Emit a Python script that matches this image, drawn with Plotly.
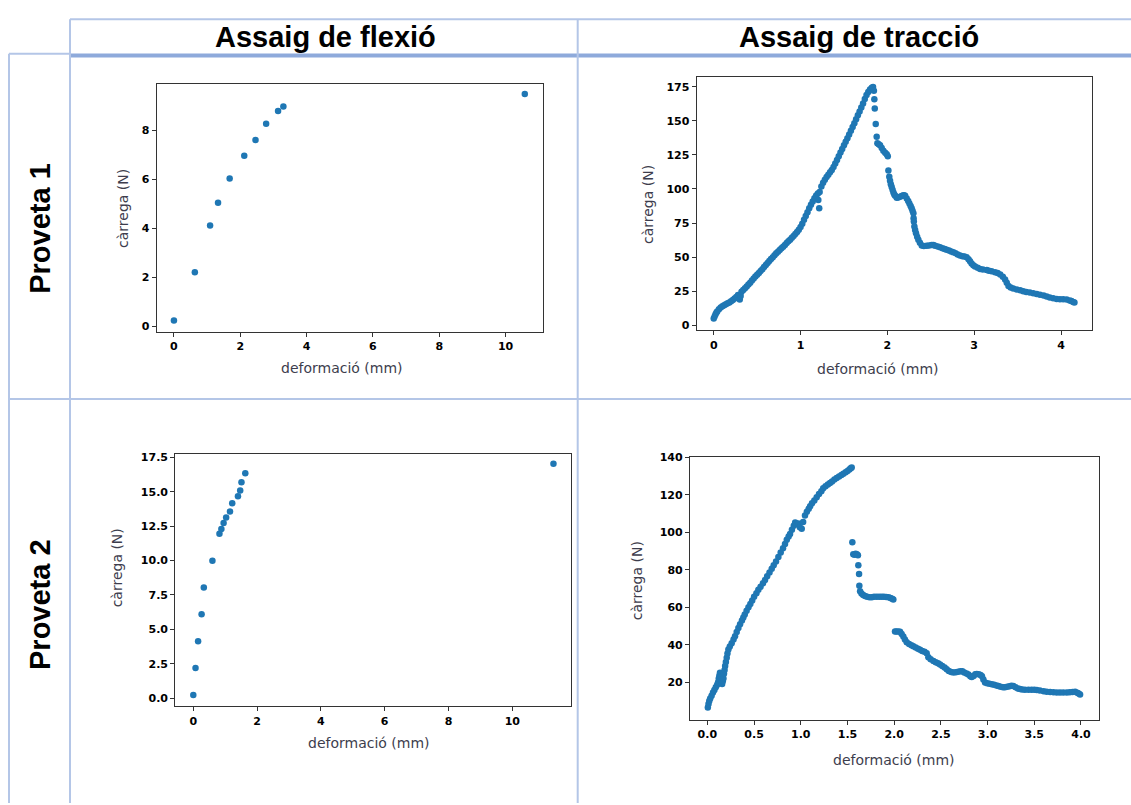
import plotly.graph_objects as go

W, H = 1131, 805

# ---------------- data ----------------
flex1_x = [0.0, 0.63, 1.09, 1.33, 1.68, 2.12, 2.46, 2.78, 3.14, 3.30, 10.58]
flex1_y = [0.23, 2.2, 4.12, 5.05, 6.04, 6.97, 7.62, 8.28, 8.80, 8.99, 9.50]

flex2_x = [0.0, 0.07, 0.15, 0.26, 0.33, 0.60, 0.82, 0.88, 0.95, 1.03, 1.15, 1.22, 1.40, 1.47, 1.51, 1.63, 11.29]
flex2_y = [0.22, 2.18, 4.13, 6.10, 8.04, 9.99, 11.95, 12.29, 12.72, 13.13, 13.56, 14.16, 14.67, 15.10, 15.70, 16.35, 17.04]

trac1_x = [0.00, 0.01, 0.02, 0.03, 0.04, 0.06, 0.08, 0.10, 0.12, 0.14, 0.16, 0.18, 0.20, 0.22, 0.24, 0.26, 0.28,
           0.30, 0.31, 0.32, 0.34, 0.36, 0.38, 0.40, 0.42, 0.44, 0.46, 0.48, 0.50, 0.52, 0.54, 0.56, 0.58, 0.60,
           0.62, 0.64, 0.66, 0.68, 0.70, 0.72, 0.74, 0.76, 0.78, 0.80, 0.82, 0.84, 0.86, 0.88, 0.90, 0.92, 0.94,
           0.96, 0.98, 1.00, 1.02, 1.04, 1.06, 1.08, 1.10, 1.12, 1.14, 1.16, 1.18, 1.20, 1.205, 1.215, 1.22, 1.24,
           1.26, 1.28, 1.30, 1.32, 1.34, 1.36, 1.38, 1.40, 1.42, 1.44, 1.46, 1.48, 1.50, 1.52, 1.54, 1.56, 1.58,
           1.60, 1.62, 1.64, 1.66, 1.68, 1.70, 1.72, 1.74, 1.76, 1.78, 1.80, 1.82, 1.835,
           1.845, 1.850, 1.855, 1.866, 1.877, 1.885, 1.90, 1.916, 1.935, 1.954, 1.975, 1.993, 2.005,
           2.012, 2.022, 2.031, 2.04, 2.05, 2.06, 2.07, 2.08, 2.09, 2.108, 2.125, 2.146, 2.165, 2.18, 2.192,
           2.205, 2.223, 2.24, 2.254, 2.268, 2.28, 2.29, 2.30, 2.302, 2.305, 2.311, 2.32, 2.33, 2.343, 2.357,
           2.375, 2.396, 2.42, 2.453, 2.48, 2.51, 2.53, 2.55, 2.58, 2.607, 2.635, 2.66, 2.683, 2.71, 2.735,
           2.76, 2.785, 2.81, 2.837, 2.865, 2.89, 2.914, 2.935, 2.952, 2.97, 2.99, 3.01, 3.04, 3.068, 3.10,
           3.145, 3.17, 3.20, 3.24, 3.27, 3.30, 3.33, 3.356, 3.375, 3.395, 3.42, 3.45, 3.49, 3.53, 3.565,
           3.60, 3.64, 3.68, 3.72, 3.758, 3.80, 3.835, 3.87, 3.91, 3.95, 3.988, 4.025, 4.065, 4.10, 4.12,
           4.14, 4.155]
trac1_y = [5.0, 6.5, 8.0, 9.2, 10.2, 11.8, 13.0, 14.0, 14.8, 15.5, 16.2, 16.8, 17.6, 18.6, 19.6, 20.8, 22.3,
           19.0, 21.5, 24.6, 26.0, 27.2, 28.5, 30.0, 31.3, 32.8, 34.3, 35.8, 37.1, 38.4, 39.8, 41.2, 42.7, 44.2,
           45.7, 47.2, 48.6, 50.0, 51.4, 52.8, 54.0, 55.2, 56.5, 57.7, 59.0, 60.3, 61.6, 62.8, 64.2, 65.6, 67.0,
           68.5, 70.2, 72.2, 74.6, 77.4, 80.2, 83.0, 85.8, 88.4, 90.8, 93.2, 95.3, 96.7, 91.9, 85.8, 97.8, 101.8,
           104.5, 106.8, 108.8, 110.5, 112.2, 114.0, 116.2, 118.7, 121.2, 124.0, 126.8, 129.4, 132.0, 134.6, 137.3, 140.0, 142.7,
           145.4, 148.3, 151.2, 154.0, 156.8, 159.7, 162.8, 166.0, 169.0, 171.2, 173.0, 174.3, 174.8,
           172.0, 165.8, 159.0, 147.6, 138.4, 133.5, 132.8, 132.0, 130.0, 128.0, 126.5, 125.5, 124.0,
           113.5, 109.0, 106.0, 103.5, 101.5, 99.5, 97.5, 96.0, 95.0, 93.5, 93.8, 94.3, 94.8, 95.3, 95.5,
           95.0, 93.1, 91.2, 89.4, 87.5, 85.8, 84.0, 82.2, 78.5, 76.1, 72.5, 70.0, 67.6, 65.0, 62.8,
           60.5, 58.6, 58.2, 58.4, 58.6, 59.0, 59.0, 58.4, 57.8, 57.2, 56.6, 56.0, 55.5, 54.9, 54.2,
           53.6, 52.9, 52.0, 51.2, 50.7, 50.4, 50.0, 48.5, 47.0, 45.4, 44.0, 43.2, 42.2, 41.4, 40.9,
           40.5, 40.0, 39.6, 39.0, 38.3, 37.2, 35.6, 33.7, 31.2, 28.8, 27.8, 27.0, 26.3, 25.7, 25.0,
           24.5, 24.0, 23.5, 23.0, 22.5, 21.8, 21.1, 20.4, 19.8, 19.4, 19.2, 19.1, 18.9, 18.2, 17.8,
           17.2, 16.8]

trac2_x = [0.005, 0.012, 0.02, 0.03, 0.045, 0.06, 0.075, 0.09, 0.105, 0.115, 0.122, 0.128, 0.135, 0.142, 0.15,
           0.158, 0.165, 0.172, 0.178, 0.184, 0.19, 0.198, 0.207, 0.215, 0.225, 0.24, 0.26, 0.28, 0.296, 0.314,
           0.332, 0.35, 0.37, 0.385, 0.40, 0.42, 0.44, 0.46, 0.48, 0.50, 0.525, 0.546, 0.57, 0.595, 0.617, 0.64,
           0.665, 0.689, 0.71, 0.735, 0.76, 0.785, 0.81, 0.831, 0.85, 0.87, 0.885, 0.905, 0.925, 0.94, 0.96,
           0.975, 0.99, 1.01, 1.025, 1.045, 1.065, 1.085, 1.10, 1.12, 1.145, 1.17, 1.195, 1.22, 1.24, 1.265,
           1.29, 1.313, 1.335, 1.36, 1.384, 1.41, 1.435, 1.456, 1.48, 1.50, 1.52, 1.535, 1.545,
           1.552, 1.562, 1.575, 1.588, 1.60, 1.612, 1.616, 1.624, 1.627, 1.635, 1.65, 1.668, 1.688, 1.71,
           1.735, 1.76, 1.785, 1.813, 1.84, 1.866, 1.89, 1.915, 1.94, 1.96, 1.978, 1.991,
           2.009, 2.025, 2.045, 2.063, 2.08, 2.098, 2.115, 2.134, 2.16, 2.185, 2.205, 2.23, 2.255, 2.277,
           2.30, 2.325, 2.348, 2.366, 2.39, 2.42, 2.445, 2.47, 2.491, 2.515, 2.54, 2.562, 2.585, 2.61,
           2.634, 2.66, 2.685, 2.71, 2.73, 2.75, 2.775, 2.795, 2.815, 2.83, 2.85, 2.868, 2.884, 2.905,
           2.925, 2.94, 2.955, 2.973, 2.995, 3.02, 3.045, 3.07, 3.095, 3.116, 3.14, 3.165, 3.186, 3.21,
           3.235, 3.255, 3.276, 3.30, 3.325, 3.347, 3.37, 3.40, 3.437, 3.47, 3.50, 3.526, 3.56, 3.60,
           3.633, 3.67, 3.705, 3.74, 3.775, 3.81, 3.848, 3.88, 3.91, 3.937, 3.96, 3.975, 3.99]
trac2_y = [6.5, 8.3, 10.0, 11.3, 12.8, 14.5, 15.8, 17.3, 18.6, 20.0, 22.0, 23.5, 25.0, 23.0, 20.5,
           19.0, 20.5, 22.0, 24.5, 26.5, 28.6, 30.8, 33.0, 35.3, 37.4, 39.0, 40.8, 42.8, 44.5, 46.8,
           48.9, 51.0, 53.0, 54.6, 56.2, 58.2, 60.0, 61.8, 63.6, 65.6, 67.5, 69.3, 71.0, 72.8, 74.6, 76.6,
           78.6, 80.6, 82.4, 84.5, 86.8, 89.2, 91.5, 93.8, 96.0, 97.8, 99.2, 101.4, 103.6, 105.3, 104.5,
           104.8, 102.8, 102.0, 105.5, 109.0, 111.0, 112.6, 114.0, 115.5, 117.0, 118.8, 120.5, 122.0, 123.5, 124.6,
           125.6, 126.4, 127.2, 128.2, 129.1, 129.9, 130.6, 131.3, 132.1, 132.8, 133.6, 134.2, 134.6,
           94.7, 88.3, 88.0, 88.6, 88.3, 87.8, 82.4, 77.8, 71.5, 68.5, 67.4, 66.6, 66.0, 65.6,
           65.4, 65.3, 65.6, 65.6, 65.6, 65.6, 65.6, 65.5, 65.3, 65.0, 64.6, 64.2,
           47.1, 47.1, 47.1, 46.9, 45.8, 44.4, 42.8, 41.3, 40.4, 39.7, 39.2, 38.5, 37.9, 37.3,
           36.7, 36.2, 35.5, 33.3, 32.3, 31.3, 30.6, 30.1, 29.5, 28.6, 27.8, 26.9, 26.0, 25.4,
           25.2, 25.3, 25.6, 25.9, 25.8, 25.2, 24.6, 24.1, 23.2, 22.8, 23.3, 24.2, 24.4, 24.2,
           23.8, 23.2, 21.5, 19.9, 19.5, 19.2, 18.9, 18.6, 18.3, 18.0, 17.6, 17.3, 17.3, 17.6,
           17.9, 18.1, 18.0, 17.3, 16.6, 16.3, 16.1, 16.0, 15.9, 15.9, 15.9, 15.8, 15.5, 15.1,
           14.9, 14.7, 14.6, 14.5, 14.5, 14.5, 14.5, 14.6, 14.8, 14.9, 14.4, 13.9, 13.4]

col_titles = ["Assaig de flexió", "Assaig de tracció"]
row_titles = ["Proveta 1", "Proveta 2"]
x_label = "deformació (mm)"
y_label = "càrrega (N)"

x_ticks_flex = [0, 2, 4, 6, 8, 10]
y_ticks_flex1 = [0, 2, 4, 6, 8]
y_ticks_flex2 = [0, 2.5, 5, 7.5, 10, 12.5, 15, 17.5]
x_ticks_trac1 = [0, 1, 2, 3, 4]
y_ticks_trac1 = [0, 25, 50, 75, 100, 125, 150, 175]
x_ticks_trac2 = [0, 0.5, 1, 1.5, 2, 2.5, 3, 3.5, 4]
y_ticks_trac2 = [20, 40, 60, 80, 100, 120, 140]

# ---------------- helpers ----------------
def px(x):
    return x / W

def py(y):
    return 1 - y / H

BLUE = "#1f77b4"
fig = go.Figure()

panels = [
    (flex1_x, flex1_y, "", (156.7, 542.7, 78.5, 329.0), [-0.52, 11.12], [-0.23, 9.92], x_ticks_flex, y_ticks_flex1, "", "", 6.5),
    (trac1_x, trac1_y, "2", (696.7, 1092.0, 71.5, 327.5), [-0.196, 4.357], [-3.6, 182.3], x_ticks_trac1, y_ticks_trac1, "", "", 6.5),
    (flex2_x, flex2_y, "3", (175.3, 571.0, 452.3, 707.3), [-0.564, 11.84], [-0.6, 17.76], x_ticks_flex, y_ticks_flex2, ".1f", "", 6.5),
    (trac2_x, trac2_y, "4", (690.0, 1099.3, 456.0, 721.0), [-0.186, 4.196], [-0.1, 140.0], x_ticks_trac2, y_ticks_trac2, "", ".1f", 6.5),
]

tickfont = dict(family="DejaVu Sans", size=11, color="black", weight="bold")

for xs, ys, aid, (l, r, t, b), xr, yr, xt, yt, yfmt, xfmt, msize in panels:
    fig.add_trace(go.Scatter(
        x=xs, y=ys, mode="markers",
        marker=dict(color=BLUE, size=msize, line=dict(width=0)),
        xaxis="x" + aid, yaxis="y" + aid, showlegend=False,
        hoverinfo="x+y",
    ))
    common = dict(showline=True, mirror=True, linecolor="#333333", linewidth=1.2,
                  ticks="outside", ticklen=4, tickwidth=1, tickcolor="#333333",
                  showgrid=False, zeroline=False, tickfont=tickfont)
    fig.layout["xaxis" + aid] = dict(
        domain=[px(l), px(r)], range=xr, tickvals=xt, tickformat=xfmt,
        anchor="y" + aid, **common)
    fig.layout["yaxis" + aid] = dict(
        domain=[py(b), py(t)], range=yr, tickvals=yt, tickformat=yfmt,
        anchor="x" + aid, **common)

# axis titles (positions as in picture)
label_font = dict(family="DejaVu Sans", size=14, color="#3d3d4d")
xlab_pos = [(342, 366), (878, 367), (369, 744), (894, 762)]
ylab_pos = [(123, 205), (648, 201), (117, 568), (637, 581)]
for (x, y) in xlab_pos:
    fig.add_annotation(x=px(x), y=py(y), xref="paper", yref="paper", text=x_label,
                       showarrow=False, font=label_font, xanchor="center", yanchor="middle")
for (x, y) in ylab_pos:
    fig.add_annotation(x=px(x), y=py(y), xref="paper", yref="paper", text=y_label,
                       showarrow=False, font=label_font, textangle=-90,
                       xanchor="center", yanchor="middle")

# table headers
head_font = dict(family="Liberation Sans", size=29, color="black", weight="bold")
for text, x in zip(col_titles, [325, 859]):
    fig.add_annotation(x=px(x), y=py(31), xref="paper", yref="paper", text=text,
                       showarrow=False, font=head_font, xanchor="center", yanchor="middle")
for text, y in zip(row_titles, [225, 605]):
    fig.add_annotation(x=px(40), y=py(y), xref="paper", yref="paper", text=text,
                       showarrow=False, font=head_font, textangle=-90,
                       xanchor="center", yanchor="middle")

# table grid lines
LINE = "#b4c6e7"
THICK = "#8eaadb"
def hline(y, x0, x1, color=LINE, w=2):
    fig.add_shape(type="line", xref="paper", yref="paper", x0=px(x0), x1=px(x1),
                  y0=py(y), y1=py(y), line=dict(color=color, width=w), layer="below")
def vline(x, y0, y1, color=LINE, w=2):
    fig.add_shape(type="line", xref="paper", yref="paper", x0=px(x), x1=px(x),
                  y0=py(y0), y1=py(y1), line=dict(color=color, width=w), layer="below")

hline(13.3, 70, W)
hline(48.3, 9, 70)
hline(50, 70, W, THICK, 4)
hline(397, 9, W)
vline(9, 48.3, H)
vline(70, 13.3, H)
vline(577.7, 13.3, H)

fig.update_layout(
    width=W, height=H, margin=dict(l=0, r=0, t=0, b=0),
    paper_bgcolor="white", plot_bgcolor="white",
)

fig.write_html("out.html")
